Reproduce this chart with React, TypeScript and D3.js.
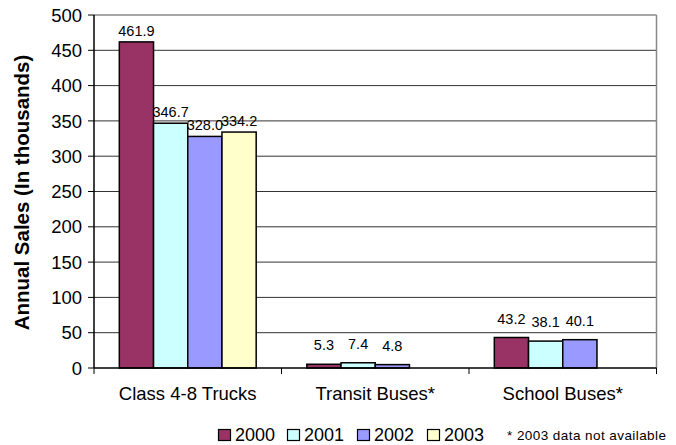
import React from "react";
import * as d3 from "d3";

const categories = ["Class 4-8 Trucks", "Transit Buses*", "School Buses*"];
const seriesNames = ["2000", "2001", "2002", "2003"];
const values2000 = [461.9, 5.3, 43.2];
const values2001 = [346.7, 7.4, 38.1];
const values2002 = [328.0, 4.8, 40.1];
const values2003: (number | null)[] = [334.2, null, null];
const yTicks = [0, 50, 100, 150, 200, 250, 300, 350, 400, 450, 500];
const colors = ["#993366", "#CCFFFF", "#9999FF", "#FFFFCC"];

const W = 676;
const H = 445;
const left = 94;
const right = 656.5;
const top = 15;
const bottom = 368;
const font = "'Liberation Sans', Arial, sans-serif";

export default function App() {
  const seriesValues = [values2000, values2001, values2002, values2003];
  const x0 = d3.scaleBand<string>().domain(categories).range([left, right]).padding(0);
  const x1 = d3
    .scaleBand<string>()
    .domain(seriesNames)
    .range([0, x0.bandwidth()])
    .paddingInner(0)
    .paddingOuter(0.74);
  const y = d3.scaleLinear().domain([0, 500]).range([bottom, top]);

  const legendX = [218, 287, 357, 427];

  return (
    <svg
      width={W}
      height={H}
      style={{ position: "absolute", left: 0, top: 0, background: "#fff" }}
      fontFamily={font}
    >
      {yTicks.map((t) =>
        t > 0 && t < 500 ? (
          <line key={"g" + t} x1={left} x2={right} y1={y(t)} y2={y(t)} stroke="#333" strokeWidth={1} />
        ) : null
      )}
      <line x1={left} x2={right} y1={y(500)} y2={y(500)} stroke="#888" strokeWidth={1.5} />
      <line x1={right} x2={right} y1={y(500)} y2={bottom} stroke="#888" strokeWidth={1.5} />

      {categories.map((c, ci) =>
        seriesNames.map((s, si) => {
          const v = seriesValues[si][ci];
          if (v == null) return null;
          const bx = (x0(c) as number) + (x1(s) as number);
          const bw = x1.bandwidth();
          return (
            <rect
              key={c + s}
              x={bx}
              y={y(v)}
              width={bw}
              height={bottom - y(v)}
              fill={colors[si]}
              stroke="#000"
              strokeWidth={1.5}
            />
          );
        })
      )}

      {categories.map((c, ci) =>
        seriesNames.map((s, si) => {
          const v = seriesValues[si][ci];
          if (v == null) return null;
          const cx = (x0(c) as number) + (x1(s) as number) + x1.bandwidth() / 2;
          const gap = ci === 0 ? 6 : 14;
          return (
            <text
              key={"l" + c + s}
              x={cx}
              y={y(v) - gap}
              textAnchor="middle"
              fontSize={14.5}
              fill="#000"
            >
              {v.toFixed(1)}
            </text>
          );
        })
      )}

      <line x1={left} x2={left} y1={top} y2={bottom} stroke="#000" strokeWidth={1.5} />
      <line x1={left} x2={right} y1={bottom} y2={bottom} stroke="#000" strokeWidth={1.5} />
      {yTicks.map((t) => (
        <g key={"t" + t}>
          <line x1={left - 6} x2={left} y1={y(t)} y2={y(t)} stroke="#000" strokeWidth={1} />
          <text x={left - 12} y={y(t)} dy="0.36em" textAnchor="end" fontSize={18.5} fill="#000">
            {t}
          </text>
        </g>
      ))}
      {[...categories.map((c) => x0(c) as number), right].map((xv, i) => (
        <line key={"xt" + i} x1={xv} x2={xv} y1={bottom} y2={bottom + 6} stroke="#000" strokeWidth={1} />
      ))}
      {categories.map((c) => (
        <text
          key={"c" + c}
          x={(x0(c) as number) + x0.bandwidth() / 2}
          y={400}
          textAnchor="middle"
          fontSize={18.5}
          fill="#000"
        >
          {c}
        </text>
      ))}

      <text
        transform={`translate(29, ${(top + bottom) / 2 + 1}) rotate(-90)`}
        textAnchor="middle"
        fontSize={20.5}
        fontWeight="bold"
        fill="#000"
      >
        Annual Sales (In thousands)
      </text>

      {seriesNames.map((s, i) => (
        <g key={"lg" + s}>
          <rect x={legendX[i] + 0.5} y={429.5} width={12} height={11} fill={colors[i]} stroke="#000" strokeWidth={1.2} />
          <text x={legendX[i] + 17} y={441} fontSize={18} fill="#000">
            {s}
          </text>
        </g>
      ))}
      <text x={507} y={440} fontSize={13.5} fill="#000" textLength={159}>
        * 2003 data not available
      </text>
    </svg>
  );
}
